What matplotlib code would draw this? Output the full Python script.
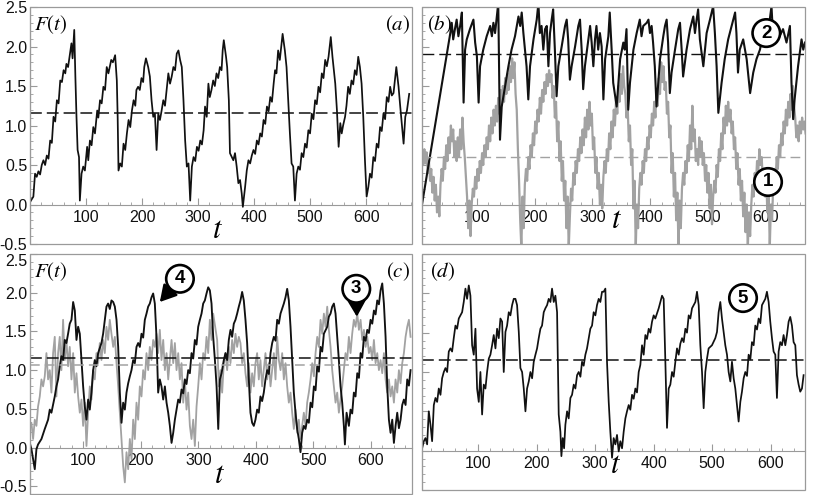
import matplotlib
matplotlib.use('Agg')
import matplotlib.pyplot as plt
from matplotlib.patches import Rectangle
from matplotlib.ticker import MultipleLocator, FixedLocator, FuncFormatter

plt.rcParams['font.family'] = ['Liberation Sans', 'DejaVu Sans']
plt.rcParams['mathtext.fontset'] = 'stix'
plt.rcParams['axes.unicode_minus'] = False
plt.rcParams['lines.scale_dashes'] = False

# ---------------- data ----------------
x_ticks = [100, 200, 300, 400, 500, 600]

black_a = [(0,0.03),(6,0.10),(9,0.39),(12,0.35),(15,0.42),(18,0.38),(21,0.5),(24,0.56),(27,0.50),(30,0.62),(33,0.58),(36,0.81),(39,0.78),
(42,1.11),(45,1.05),(48,1.32),(51,1.28),(54,1.57),(57,1.55),(60,1.70),(63,1.66),(65,1.78),(68,1.74),(71,1.89),(74,2.04),
(76,1.85),(79,2.21),(81,1.62),(83,1.11),(85,0.69),(87.5,0.60),(89,0.05),(92,0.39),(95,0.48),(98,0.43),(102,0.73),(104,0.56),
(107,0.81),(110,0.75),(113,0.98),(116,0.90),(120,1.19),(122,1.10),(125,1.32),(128,1.28),(131,1.49),(134,1.45),(137,1.74),(140,1.66),
(145,1.83),(148,1.80),(152,1.89),(155,1.57),(156.5,1.11),(158,0.43),(161,0.52),(164,0.48),(167,0.77),(170,0.69),(173,0.90),
(176,1.07),(179,0.98),(182,1.19),(185,1.32),(188,1.25),(190,1.45),(193,1.49),(196,1.45),(199,1.60),(202,1.55),(204,1.74),(207,1.85),(211,1.74),
(214,1.62),(217,1.32),(220,1.11),(223,1.15),(226,0.69),(229,1.15),(232,1.07),(235,1.19),(238,1.32),(241,1.25),(244,1.45),(247,1.66),
(250,1.53),(253,1.62),(256,1.74),(259,1.70),(262,1.91),(265,1.95),(268,1.83),(271,1.74),(274,1.32),(277,0.81),(280,0.48),(283,0.52),
(286,0.05),(289,0.48),(292,0.60),(295,0.55),(298,0.73),(301,0.68),(304,0.81),(307,0.76),(310,0.94),(312.5,1.24),(315.5,1.11),(318.5,1.53),(321,1.36),
(324,1.45),(327,1.57),(330,1.50),(333,1.66),(336,1.60),(339,1.74),(342,1.70),(344,1.95),(346,2.08),(350,1.87),(352,1.74),(355,1.32),(357,0.65),(363,0.56),(366,0.65),
(369,0.48),(372,0.27),(375,0.31),(378,0.14),(380,-0.03),(384,0.22),(387,0.43),(390,0.56),(393,0.52),(396,0.62),(399,0.69),(402,0.64),(405,0.81),
(408,0.76),(411,0.90),(414,0.86),(417,1.07),(420,1.02),(423,1.24),(426,1.18),(429,1.36),(432,1.30),(435,1.53),(437.5,1.70),(440,1.66),(443,1.95),(446,1.83),(451,2.16),(455,1.95),
(458,1.74),(461,1.32),(464,0.90),(467,0.52),(470,0.48),(473,0.05),(476,0.39),(479,0.48),(482,0.44),(485,0.65),(488,0.60),(491,0.77),(494,0.72),(497,0.94),
(500,0.90),(503,1.15),(506,1.08),(509,1.32),(512,1.27),(515,1.49),(518,1.42),(521,1.66),(524,1.60),(527,1.83),(530,1.75),(533,1.87),(537,2.12),(540,1.87),(545,1.53),(548,1.19),(551,0.73),
(554,1.03),(556.5,0.90),(559,1.00),(562.5,1.11),(565,1.25),(568,1.49),(571,1.40),(574,1.57),(577,1.52),(580,1.70),(583,1.64),(586,1.87),(589,1.74),(592,1.53),(595,1.11),(598,0.56),
(601,0.10),(604,0.22),(607,0.39),(610,0.34),(613,0.60),(616,0.55),(619,0.77),(622,0.72),(625,0.98),(628,0.93),(631,1.15),(634,1.08),(637,1.36),(640,1.30),(643,1.49),(646,1.38),(649,1.41),(654,1.74),
(658,1.49),(661,1.24),(667,0.77),(670,1.11),(673,1.19),(677,1.40)]
mean_a = 1.16

black_b = [(5,0.0),(48,1.90),(54,2.17),(56.5,2.30),(59,2.09),(62,2.22),(65,2.34),(68,2.13),(71,2.26),(74,2.43),(77,1.29),
(79.6,1.96),(82.5,2.09),(88,2.22),(94,2.34),(97,2.05),(100,1.88),(103,1.29),(105.5,1.75),(111,1.96),(117,2.13),(123,2.26),
(126,2.13),(128.6,2.30),(131.5,2.17),(134,2.34),(137,2.55),(140,0.82),(143,1.24),(149,1.50),(154.6,1.75),(160,1.96),
(166,2.13),(172,2.38),(175,2.26),(177.6,2.43),(180.5,2.17),(186,1.75),(189,1.33),(192,1.75),(198,2.09),(203.6,2.34),
(206.5,2.55),(209,2.17),(212,2.26),(215,1.96),(218,2.22),(221,2.26),(223.8,1.75),(226.6,2.17),(229.5,2.34),(232,2.47),
(235,1.96),(238,1.37),(241,1.75),(246.8,2.00),(252.6,2.26),(255.5,2.34),(258,2.09),(261,1.58),(264,1.75),(270,2.00),
(275.6,2.26),(278.5,2.34),(281.4,1.96),(284,1.46),(287,1.75),(293,2.09),(296,2.26),(298.7,2.05),(301.6,1.75),(304.5,2.09),
(307,2.26),(310,1.96),(313,2.17),(316,2.00),(319,1.33),(322,1.84),(327.6,2.13),(330,2.43),(333.3,1.96),(336,1.54),
(342,1.24),(348,1.84),(353.5,2.05),(356,1.96),(359,2.22),(362,1.20),(365,1.54),(371,1.96),(376.6,2.17),(382,2.34),
(385,2.13),(388,2.26),(394,2.30),(397,2.34),(399.6,2.17),(402.5,2.26),(405,2.05),(408,1.75),(411,1.24),(414,1.54),
(417,1.84),(422.7,2.13),(425.6,2.26),(428.5,2.34),(431,2.05),(434,1.41),(437,1.67),(443,1.96),(448.6,2.22),(451.6,2.30),
(454.5,1.96),(457,1.62),(463,1.96),(469,2.22),(474.6,2.38),(477.5,2.17),(480.4,2.34),(483,2.47),(486,2.09),(492,1.75),
(497.7,2.17),(503.5,2.34),(509,2.51),(512,2.17),(515,1.75),(518,1.16),(523.6,1.54),(529,1.84),(535,2.09),(541,2.26),
(547,2.43),(549.3,2.17),(552,1.67),(555,1.96),(561,2.09),(567,1.84),(573,1.41),(578.4,1.67),(584,1.84),(590,1.96),
(596,2.17),(601.5,2.05),(607,2.34),(610,2.51),(613,2.09),(618,2.26),(624,2.13),(630,2.22),(636,2.05),(641.9,2.26),
(644.6,1.54),(647.5,1.08),(650,1.33),(656,1.75),(662,2.09),(665,1.96),(668,2.05)]
mean_b_black = 1.91

gray_b = [(3,0.45),(5,0.62),(7,0.50),(9,0.70),(11,0.52),(13,0.66),(15,0.40),(17,0.55),(19,0.30),(21,0.45),(23,0.15),
(25,0.35),(27,0.05),(29,0.25),(31,-0.10),(33,0.10),(35,-0.15),(37,0.25),(39,0.45),(41,0.30),(43,0.60),(45,0.45),(47,0.75),
(49,0.55),(51,0.85),(53,0.65),(55,1.00),(57,0.80),(59,0.95),(61,0.60),(63,0.80),(65,0.55),(67,0.85),(69,0.60),(71,0.95),
(73,0.70),(75,1.10),(77,0.80),(79,0.60),(81,0.35),(83,0.10),(85,-0.30),(87,0.05),(89,-0.40),(91,0.00),(93,0.20),(95,0.10),
(97,0.35),(99,0.20),(101,0.45),(103,0.30),(105,0.55),(107,0.40),(109,0.65),(111,0.50),(113,0.75),(115,0.60),(117,0.85),
(119,0.70),(121,1.00),(123,0.80),(125,1.10),(127,0.90),(129,1.20),(131,1.00),(133,1.25),(135,1.05),(137,1.35),(139,1.15),
(141,1.45),(143,1.25),(145,1.50),(147,1.30),(149,1.60),(151,1.40),(153,1.65),(155,1.45),(157,1.75),(159,1.55),(161,1.85),
(163,1.60),(165,1.80),(167,1.40),(169,1.20),(171,0.70),(173,0.30),(175,-0.20),(177,-0.55),(179,0.10),(181,-0.30),(183,0.25),
(185,0.45),(187,0.30),(189,0.60),(191,0.45),(193,0.75),(195,0.60),(197,0.90),(199,0.75),(201,1.05),(203,0.90),(205,1.20),
(207,1.05),(209,1.35),(211,1.15),(213,1.45),(215,1.30),(217,1.55),(219,1.40),(221,1.65),(223,1.50),(225,1.70),(227,1.55),
(229,1.65),(231,1.35),(233,1.50),(235,1.10),(237,1.30),(239,0.80),(241,1.05),(243,0.55),(245,0.80),(247,0.30),(249,0.55),
(251,0.05),(253,0.30),(255,-0.30),(257,0.10),(259,-0.55),(261,-0.15),(263,0.20),(265,0.05),(267,0.40),(269,0.25),(271,0.55),
(273,0.40),(275,0.70),(277,0.55),(279,0.85),(281,0.65),(283,0.95),(285,0.75),(287,1.10),(289,0.85),(291,1.20),(293,0.95),
(295,1.30),(297,1.00),(299,1.15),(301,0.70),(303,0.85),(305,0.40),(307,0.60),(309,0.20),(311,0.40),(313,0.00),(315,0.25),
(317,-0.05),(319,0.35),(321,0.55),(323,0.40),(325,0.70),(327,0.55),(329,0.90),(331,0.70),(333,1.05),(335,0.85),(337,1.20),
(339,1.00),(341,1.35),(343,1.15),(345,1.50),(347,1.30),(349,1.65),(351,1.40),(353,1.75),(355,1.50),(357,1.40),(359,1.10),
(361,1.25),(363,0.80),(365,1.00),(367,0.50),(369,0.70),(371,-0.05),(373,0.30),(375,-0.55),(377,0.00),(379,-0.30),(381,0.20),
(383,0.40),(385,0.25),(387,0.55),(389,0.40),(391,0.70),(393,0.55),(395,0.85),(397,0.70),(399,1.00),(401,0.85),(403,1.15),
(405,1.00),(407,1.30),(409,1.10),(411,1.45),(413,1.25),(415,1.60),(417,1.40),(419,1.80),(421,1.55),(423,1.75),(425,1.45),
(427,1.55),(429,1.15),(431,1.30),(433,0.85),(435,1.00),(437,0.40),(439,0.65),(441,0.10),(443,0.40),(445,-0.20),(447,0.15),
(449,-0.55),(451,0.05),(453,-0.30),(455,0.20),(457,0.40),(459,0.25),(461,0.55),(463,0.40),(465,0.75),(467,0.55),(469,1.00),
(471,0.70),(473,1.25),(475,0.80),(477,0.95),(479,0.55),(481,0.70),(483,0.50),(485,0.85),(487,0.60),(489,0.80),(491,0.50),
(493,0.65),(495,0.30),(497,0.50),(499,0.15),(501,0.40),(503,-0.05),(505,0.25),(507,-0.25),(509,0.10),(511,0.30),(513,0.15),
(515,0.50),(517,0.35),(519,0.70),(521,0.55),(523,0.90),(525,0.70),(527,1.10),(529,0.90),(531,1.25),(533,1.00),(535,1.30),
(537,1.05),(539,1.20),(541,0.90),(543,1.05),(545,0.70),(547,0.85),(549,0.45),(551,0.65),(553,0.25),(555,0.45),(557,0.05),
(559,0.30),(561,-0.15),(563,0.15),(565,-0.35),(567,0.00),(569,-0.55),(571,-0.10),(573,-0.40),(575,0.00),(577,0.25),(579,0.10),
(581,0.40),(583,0.25),(585,0.55),(587,0.40),(589,0.70),(591,0.50),(593,0.60),(595,0.30),(597,0.45),(599,0.10),(601,0.30),
(603,-0.10),(605,0.20),(607,-0.55),(609,0.00),(611,-0.20),(613,0.25),(615,0.45),(617,0.30),(619,0.60),(621,0.45),(623,0.75),
(625,0.60),(627,0.90),(629,0.75),(631,1.05),(633,0.90),(635,1.20),(637,1.00),(639,1.30),(641,1.10),(643,1.40),(645,1.20),
(647,1.50),(649,1.25),(651,1.10),(653,0.85),(655,1.00),(657,0.80),(659,1.05),(661,0.90),(663,1.10),(665,0.95),(667,1.05),
(669,0.90)]
mean_b_gray = 0.60

black_c = [(6.6,0.06),(9.5,-0.02),(12.4,-0.15),(15.3,-0.28),(18.2,-0.02),(21,0.04),(26.9,0.11),(32.7,0.24),(38.5,0.36),
(41.4,0.49),(44.3,0.45),(50.1,0.66),(53,0.79),(55.9,0.88),(58.8,1.05),(61.7,1.18),(64.6,1.13),(67.5,1.39),(70.4,1.35),
(73.3,1.47),(76.2,1.60),(79.2,1.65),(82.1,1.88),(85,1.77),(87.9,1.39),(90.8,1.56),(93.7,1.47),(96.6,1.13),(99.5,0.79),
(102.4,0.53),(105.3,0.36),(108.2,0.62),(111.1,0.49),(114,0.71),(116.9,1.00),(119.8,1.13),(122.7,1.05),(125.6,1.22),
(131.4,1.35),(134.3,1.47),(137.2,1.65),(140.1,1.82),(143,1.86),(145.9,1.79),(148.8,1.90),(151.8,1.88),(154.7,1.82),
(157.6,1.65),(160.5,1.30),(163.4,0.71),(166.3,0.32),(169.2,0.58),(172.1,0.49),(175,0.71),(177.9,0.83),(180.8,0.92),
(183.7,1.00),(186.6,1.13),(189.5,1.09),(192.4,1.30),(195.3,1.35),(198.2,1.30),(201.1,1.47),(204,1.42),(206.9,1.65),(209.8,1.73),(212.7,1.82),
(215.6,1.86),(218.5,1.94),(221.4,1.99),(224.3,1.86),(227.2,1.43),(230.1,0.71),(233,0.88),(235.9,0.79),(238.9,0.62),
(241.8,0.79),(244.7,0.58),(247.6,0.45),(250.5,0.28),(253.4,0.06),(256.3,0.19),(259.2,0.36),(262.1,0.49),(265,0.62),
(267.9,0.58),(270.8,0.75),(273.7,0.70),(276.6,0.88),(279.5,0.82),(282.4,1.00),(285.3,0.96),(288.2,1.22),(291.1,1.15),(294,1.39),(296.9,1.33),(299.8,1.56),(302.7,1.65),(305.6,1.73),(308.5,1.86),
(311.4,1.90),(314.3,1.99),(317.2,2.07),(320.1,2.03),(323,1.86),(325.9,1.43),(328.9,1.13),(331.8,0.79),(334.7,0.24),
(337.6,0.88),(340.5,0.96),(344.4,1.13),(347.3,1.22),(350.2,1.13),(353.1,1.39),(356,1.52),(358.9,1.43),(361.8,1.60),
(364.7,1.65),(367.6,1.73),(370.5,1.82),(373.4,1.90),(376.3,2.01),(379.2,1.90),(382.1,1.65),(385,1.35),(387.9,0.88),
(390.8,0.45),(393.7,0.32),(396.6,0.28),(399.5,0.36),(402.4,0.49),(405.3,0.45),(408.2,0.66),(411.1,0.60),(414,0.71),(416.9,0.88),
(419.9,1.00),(422.8,0.95),(425.7,1.22),(428.6,1.35),(431.5,1.43),(434.4,1.38),(437.3,1.65),(440.2,1.60),(443.1,1.73),(448.9,1.86),(451.8,1.94),(454.7,2.05),
(457.6,1.90),(460.5,1.56),(463.4,1.13),(466.3,0.71),(469.2,0.45),(472.1,0.24),(475,0.11),(477.9,-0.06),(480.8,0.19),
(483.7,0.28),(486.6,0.24),(489.5,0.36),(492.4,0.32),(495.4,0.58),(498.3,0.52),(501.2,0.79),(504.1,0.74),(507,1.05),(509.9,0.98),(512.8,1.30),(515.7,1.24),(518.6,1.47),(524.4,1.56),(527.3,1.69),
(530.2,1.73),(533.1,1.82),(536,1.86),(538.9,1.73),(541.8,1.43),(544.7,1.13),(547.6,0.79),(550.5,0.58),(553.4,0.28),
(555.2,0.04),(558.1,0.45),(562.1,0.28),(565,0.49),(567.9,0.44),(570.8,0.71),(573.7,0.66),(576.7,0.96),(579.6,0.90),(582.5,1.22),(585.4,1.16),(588.3,1.43),(591.2,1.38),(594.1,1.52),
(597,1.48),(599.9,1.65),(602.8,1.60),(605.7,1.77),(608.6,1.72),(611.5,1.90),(614.4,1.85),(617.3,2.03),(620.2,2.12),(623.1,1.86),(626,1.43),(628.9,0.79),(631.8,0.36),
(634.7,0.19),(637.6,0.36),(640.5,0.06),(643.4,0.28),(646.3,0.45),(649.2,0.25),(652.1,0.36),(655,0.55),(657.9,0.62),(660.8,0.55),(663.7,0.88),(666.6,0.80),(669.5,1.00)]
mean_c_black = 1.16

gray_c = [(6.6,0.24),(9.5,0.32),(12.4,0.11),(15.3,0.36),(18.2,0.28),(21,0.53),(24,0.66),(26.9,0.88),(29.8,0.79),(32.7,0.92),
(35.6,1.22),(38.5,0.88),(41.4,1.00),(44.3,0.71),(47.2,1.22),(50.1,1.43),(53,0.66),(55.9,1.22),(58.8,1.43),(61.7,1.00),
(64.6,1.65),(67.5,1.13),(70.4,1.39),(73.3,1.05),(76.2,1.30),(79.2,0.88),(82.1,1.22),(85,0.71),(87.9,0.96),(90.8,0.66),
(93.7,0.45),(96.6,0.62),(99.5,0.28),(102.4,0.58),(105.3,0.02),(108.2,0.45),(111.1,0.79),(114,0.62),(116.9,1.00),(119.8,0.88),
(122.7,1.22),(125.6,1.09),(128.5,1.35),(131.4,1.13),(134.3,1.39),(137.2,1.22),(140.1,1.56),(143,1.39),(145.9,1.65),
(148.8,1.47),(151.8,1.30),(154.7,1.43),(157.6,1.09),(160.5,0.79),(163.4,0.45),(166.3,0.11),(169.2,-0.24),(172.1,-0.45),
(175,-0.06),(177.9,-0.28),(180.8,0.11),(183.7,-0.15),(186.6,0.36),(189.5,0.11),(192.4,0.58),(195.3,0.36),(198.2,0.79),
(201.1,0.66),(204,1.00),(206.9,0.88),(209.8,1.22),(212.7,1.00),(215.6,1.30),(218.5,1.13),(221.4,1.39),(224.3,1.30),
(227.2,1.47),(230.1,1.22),(233,1.52),(235.9,1.13),(238.9,1.39),(241.8,1.00),(244.7,1.22),(247.6,0.88),(250.5,1.13),
(253.4,1.39),(256.3,1.09),(259.2,1.35),(262.1,1.00),(265,1.22),(267.9,0.88),(270.8,1.09),(273.7,0.58),(276.6,0.88),
(279.5,0.49),(282.4,0.71),(285.3,0.28),(288.2,0.11),(291.1,0.36),(294,0.02),(296.9,0.53),(299.8,0.79),(302.7,1.09),
(305.6,0.88),(308.5,1.22),(311.4,1.13),(314.3,1.43),(317.2,1.22),(320.1,1.65),(323,1.39),(325.9,1.73),(332.8,1.39),
(335.7,0.79),(338.6,1.00),(341.5,0.71),(344.4,1.09),(347.3,1.22),(350.2,1.00),(353.1,1.30),(356,1.09),(358.9,1.39),
(361.8,1.22),(364.7,1.47),(367.6,1.30),(370.5,1.43),(373.4,1.35),(376.3,1.09),(379.2,1.22),(382.1,0.96),(385,0.79),
(387.9,1.09),(390.8,0.71),(393.7,0.96),(396.6,0.79),(399.5,1.09),(402.4,1.22),(405.3,0.88),(408.2,1.13),(411.1,0.79),
(414,1.00),(416.9,1.22),(419.9,0.88),(422.8,1.09),(425.7,0.79),(428.6,1.00),(431.5,1.22),(434.4,0.88),(437.3,1.43),
(440.2,1.13),(443.1,1.00),(446,1.22),(448.9,0.88),(451.8,1.09),(454.7,0.79),(457.6,0.58),(460.5,0.71),(463.4,0.45),
(466.3,0.24),(469.2,0.49),(472.1,0.19),(475,0.36),(477.9,0.11),(480.8,0.28),(483.7,0.45),(486.6,0.28),(489.5,0.58),
(492.4,0.71),(495.4,0.88),(498.3,1.09),(501.2,0.92),(504.1,1.22),(507,1.43),(509.9,1.30),(512.8,1.65),(515.7,1.47),
(518.6,1.73),(521.5,1.56),(524.4,1.82),(527.3,1.52),(530.2,1.30),(533.1,1.00),(536,0.79),(538.9,0.58),(541.8,0.71),
(544.7,0.45),(547.6,0.62),(550.5,0.79),(553.4,1.00),(556.3,1.22),(559.2,1.13),(562.1,1.43),(565,1.22),(567.9,1.47),
(570.8,1.65),(573.7,1.56),(576.7,1.73),(579.6,1.52),(582.5,1.65),(585.4,1.39),(588.3,1.52),(591.2,1.30),(594.1,1.43),
(597,1.22),(599.9,1.30),(602.8,1.13),(605.7,1.39),(608.6,1.09),(611.5,1.22),(614.4,1.00),(617.3,1.13),(620.2,0.96),
(623.1,1.22),(626,0.88),(628.9,0.71),(631.8,0.88),(634.7,0.66),(637.6,0.79),(640.5,0.58),(643.4,0.88),(646.3,0.71),
(649.2,1.00),(652.1,0.83),(655,1.09),(657.9,1.22),(660.8,1.43),(663.7,1.56),(666.6,1.65),(669.5,1.43)]
mean_c_gray = 1.06

black_d = [(4.2,0.03),(7.1,0.12),(9.9,0.16),(12.8,0.08),(15.6,0.50),(18.5,0.33),(21.3,0.12),(24.2,0.58),(27,0.67),
(29.9,0.62),(32.7,0.79),(35.6,0.71),(38.4,0.92),(41.3,1.00),(44.1,1.05),(47,1.00),(49.8,1.26),(52.6,1.30),(55.5,1.26),
(58.3,1.43),(61.2,1.59),(64,1.55),(66.9,1.68),(69.7,1.72),(72.6,1.76),(75.4,1.89),(78.3,2.06),(81.1,1.93),(84,2.10),
(86.8,1.97),(89.7,1.34),(92.5,1.22),(95.4,1.55),(98.2,0.79),(101.1,0.62),(103.9,1.00),(106.8,0.46),(109.6,0.84),(112.5,0.79),
(115.3,1.00),(118.2,1.17),(121,1.22),(123.9,1.34),(126.7,1.47),(129.6,1.30),(132.4,1.55),(135.3,1.43),(138.1,1.68),(141,1.64),
(143.8,1.00),(146.7,1.51),(149.5,1.59),(152.4,1.76),(155.2,1.72),(158.1,1.85),(160.9,1.93),(163.8,1.93),(166.6,1.85),
(169.5,1.51),(172.3,1.05),(175.2,1.00),(178,0.79),(180.9,0.50),(183.7,0.79),(186.6,0.88),(189.4,1.00),(192.3,0.92),
(195.1,1.13),(198,1.22),(200.8,1.30),(203.6,1.43),(206.5,1.55),(209.3,1.59),(212.2,1.76),(215,1.81),(217.9,1.85),(220.7,1.93),
(223.6,1.89),(226.4,2.06),(229.3,1.89),(232.1,1.97),(235,1.76),(237.8,0.46),(240.7,0.24),(242.4,-0.07),(244.7,0.16),
(247,0.03),(249.2,0.33),(252.1,0.50),(254.9,0.41),(257.8,0.67),(260.6,0.71),(263.5,0.84),(266.3,0.79),(269.2,0.96),(272,1.00),
(274.9,0.94),(277.7,1.13),(280.5,1.08),(283.4,1.22),(286.2,1.30),(289.1,1.43),(291.9,1.55),(294.8,1.59),(297.6,1.76),(300.5,1.72),(303.3,1.85),
(306.2,1.93),(309,1.89),(311.9,2.02),(314.7,2.02),(317.6,2.06),(320.4,1.13),(323.3,0.62),(326.1,0.24),(329,-0.09),
(331.8,0.16),(334.7,0.08),(337.5,0.20),(340.4,-0.01),(343.2,0.12),(346.1,0.03),(348.9,0.24),(351.8,0.41),(354.6,0.50),
(357.5,0.58),(360.3,0.52),(363.2,0.71),(366,0.66),(368.9,0.79),(371.7,0.74),(374.6,1.00),(377.4,1.09),(380.3,1.34),(383.1,1.22),(386,1.47),(388.8,1.42),(391.7,1.55),(394.5,1.50),
(397.4,1.64),(400.2,1.72),(403,1.68),(408.8,1.81),(411.6,1.89),(414.5,1.97),(417.3,1.93),(420.2,1.13),(423,0.29),(425.9,0.79),
(428.7,0.84),(431.6,1.00),(434.4,0.94),(437.3,1.13),(440.1,1.30),(443,1.22),(445.8,1.36),(448.7,1.43),(451.5,1.38),(454.4,1.55),(457.2,1.50),(460.1,1.72),(462.9,1.68),
(465.8,1.81),(471.5,1.89),(474.3,2.02),(477.2,1.85),(480,1.34),(482.9,1.00),(485.7,0.54),(488.5,1.00),(491.4,1.17),
(494.2,1.30),(499.9,1.34),(505.6,1.43),(508.5,1.51),(511.3,1.76),(514.2,1.89),(517,1.68),(522.7,1.34),(525.6,1.22),
(528.4,1.00),(531.3,0.88),(534.1,1.13),(537,0.92),(539.8,0.79),(545.5,0.37),(548.4,0.62),(551.2,0.75),(554.1,0.92),
(556.9,1.00),(559.8,0.95),(562.6,1.22),(565.5,1.16),(568.3,1.38),(571.2,1.34),(574,1.59),(576.9,1.54),(579.7,1.68),(582.6,1.62),(585.4,1.85),(591.1,1.93),(593.9,2.02),
(596.8,1.89),(599.6,1.64),(602.5,1.43),(605.3,1.26),(608.2,1.22),(611,0.67),(613.9,1.26),(616.7,1.38),(619.6,1.34),
(622.4,1.47),(625.3,1.34),(628.1,1.47),(631,1.64),(633.8,1.70),(636.7,1.59),(639.5,1.38),(642.4,1.34),(645.2,0.96),
(648.1,0.84),(650.9,0.75),(653.8,0.79),(656.6,0.96)]
mean_d = 1.15

# ---------------- styling ----------------
BLACK = '#111111'
GRAY = '#a2a2a2'
FRAME = '#9a9a9a'
W, H = 817, 495

fig = plt.figure(figsize=(W / 100, H / 100), dpi=100)


def add_ax(x0, y0, x1, y1):
    return fig.add_axes([x0 / W, 1 - y1 / H, (x1 - x0) / W, (y1 - y0) / H])


def unzip(pairs):
    return [p[0] for p in pairs], [p[1] for p in pairs]


def style(ax, xlim, ylim, ylabels, hide_top=False):
    ax.set_xlim(*xlim)
    ax.set_ylim(*ylim)
    for s in ['top', 'right']:
        ax.spines[s].set_visible(False)
    ax.spines['bottom'].set_position(('data', 0))
    ax.spines['bottom'].set_color(FRAME)
    ax.spines['bottom'].set_linewidth(0.8)
    ax.spines['left'].set_color(FRAME)
    ax.spines['left'].set_linewidth(0.8)
    ax.add_patch(Rectangle((0, 0), 1, 1, transform=ax.transAxes, fill=False,
                           ec=FRAME, lw=0.9, clip_on=False, zorder=6))
    ax.xaxis.set_major_locator(FixedLocator(x_ticks))
    ax.xaxis.set_minor_locator(MultipleLocator(20))
    ax.yaxis.set_major_locator(MultipleLocator(0.5))
    ax.yaxis.set_minor_locator(MultipleLocator(0.1))

    def fmt(v, pos):
        if hide_top and abs(v - 2.5) < 1e-6:
            return ''
        return '%.1f' % v
    ax.yaxis.set_major_formatter(FuncFormatter(fmt))
    ax.tick_params(axis='both', which='both', direction='in', color=FRAME,
                   labelsize=11.5, labelcolor='#111111')
    ax.tick_params(which='major', length=5, width=0.8)
    ax.tick_params(which='minor', length=2.5, width=0.6)
    ax.tick_params(axis='x', pad=4)
    ax.tick_params(axis='y', pad=2, labelleft=ylabels)
    ax.set_facecolor('white')


axa = add_ax(30, 7, 412, 244)
axb = add_ax(422, 7, 805, 244)
axc = add_ax(30, 254, 412, 494)
axd = add_ax(422, 254, 805, 490)

style(axa, (0, 682), (-0.5, 2.5), True)
style(axb, (5, 668), (-0.5, 2.5), False)
style(axc, (7, 672), (-0.6, 2.5), True, hide_top=True)
style(axd, (4, 659), (-0.5, 2.5), False)

DASH_K = (8.5, 3.6)
DASH_G = (7.0, 3.6)

# panel a
t, f = unzip(black_a)
axa.plot(t, f, color=BLACK, lw=1.25, zorder=3)
axa.axhline(mean_a, color=BLACK, lw=1.1, dashes=DASH_K, zorder=4)

# panel b
t, f = unzip(gray_b)
axb.plot(t, f, color=GRAY, lw=1.6, zorder=2)
t, f = unzip(black_b)
axb.plot(t, f, color=BLACK, lw=1.5, zorder=3)
axb.axhline(mean_b_black, color=BLACK, lw=1.0, dashes=DASH_K, zorder=4)
axb.axhline(mean_b_gray, color=GRAY, lw=1.0, dashes=DASH_G, zorder=4)

# panel c
t, f = unzip(gray_c)
axc.plot(t, f, color=GRAY, lw=1.3, zorder=2)
t, f = unzip(black_c)
axc.plot(t, f, color=BLACK, lw=1.35, zorder=3)
axc.axhline(mean_c_black, color=BLACK, lw=1.1, dashes=DASH_K, zorder=4)
axc.axhline(mean_c_gray, color=GRAY, lw=1.1, dashes=DASH_G, zorder=4)

# panel d
t, f = unzip(black_d)
axd.plot(t, f, color=BLACK, lw=1.25, zorder=3)
axd.axhline(mean_d, color=BLACK, lw=1.1, dashes=DASH_K, zorder=4)

# top tick label of panel c, placed a little below the frame edge as in the reference
fig.text(27 / W, 1 - 262 / H, '2.5', ha='right', va='center', fontsize=11.5, color='#111111')

# labels
for ax in (axa, axc):
    ax.text(0.01, 0.925, r'$F(t)$', transform=ax.transAxes, fontsize=15, ha='left', va='center')
axa.text(0.995, 0.925, r'$(a)$', transform=axa.transAxes, fontsize=15, ha='right', va='center')
axb.text(0.012, 0.925, r'$(b)$', transform=axb.transAxes, fontsize=15, ha='left', va='center')
axc.text(0.995, 0.925, r'$(c)$', transform=axc.transAxes, fontsize=15, ha='right', va='center')
axd.text(0.02, 0.925, r'$(d)$', transform=axd.transAxes, fontsize=15, ha='left', va='center')

axa.text(0.49, 0.06, r'$t$', transform=axa.transAxes, fontsize=22, ha='center', va='center')
axb.text(0.507, 0.10, r'$t$', transform=axb.transAxes, fontsize=22, ha='center', va='center')
axc.text(0.497, 0.08, r'$t$', transform=axc.transAxes, fontsize=22, ha='center', va='center')
axd.text(0.504, 0.106, r'$t$', transform=axd.transAxes, fontsize=22, ha='center', va='center')

circ = dict(boxstyle='circle,pad=0.28', fc='white', ec='black', lw=1.9)
txt_kw = dict(fontsize=13.5, fontweight='bold', ha='center', va='center', zorder=10)

axb.text(601, 2.17, '2', bbox=circ, **txt_kw)
axb.text(604, 0.285, '1', bbox=circ, **txt_kw)
axd.text(553, 1.94, '5', bbox=circ, **txt_kw)

arrow = dict(arrowstyle='-|>,head_length=0.7,head_width=0.4', color='black', lw=1.8,
             mutation_scale=14, shrinkA=0, shrinkB=0)
axc.annotate('4', xy=(233, 1.88), xytext=(268, 2.18), bbox=circ, arrowprops=arrow, **txt_kw)
axc.annotate('3', xy=(576, 1.69), xytext=(575, 2.05), bbox=circ, arrowprops=arrow, **txt_kw)

fig.savefig('out.png', dpi=100, facecolor='white')
